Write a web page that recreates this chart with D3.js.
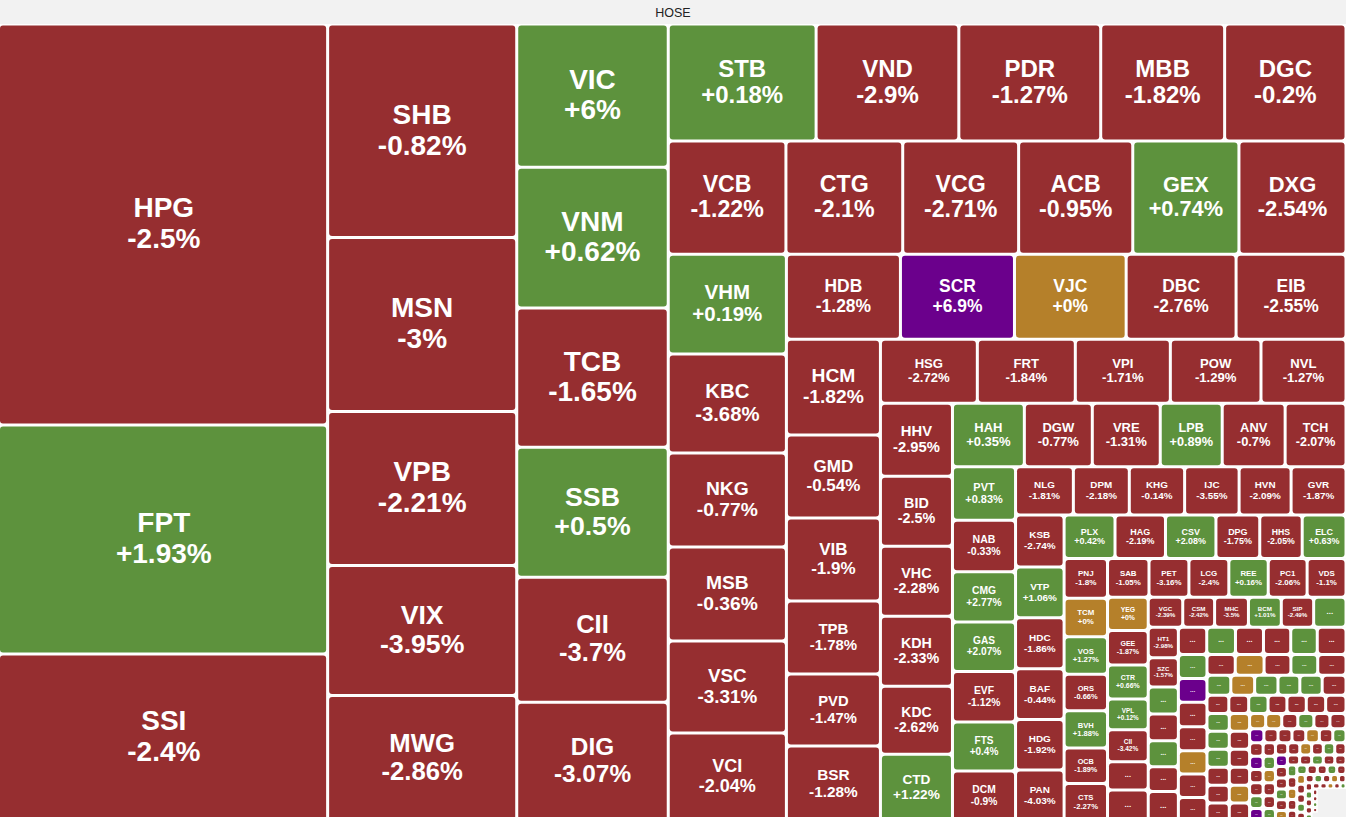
<!DOCTYPE html>
<html><head><meta charset="utf-8">
<script src="https://cdn.jsdelivr.net/npm/d3@7"></script>
<style>
html,body{margin:0;padding:0;background:#f2f2f2;overflow:hidden}
svg{display:block}
</style></head><body>
<svg id="chart" width="1346" height="817"></svg>
<script>
// ---- data ----
const title = "HOSE";
const tickers = ["HPG","FPT","SSI","SHB","MSN","VPB","VIX","MWG","VIC","VNM","TCB","SSB","CII","DIG",
 "STB","VND","PDR","MBB","DGC","VCB","CTG","VCG","ACB","GEX","DXG","VHM","KBC","NKG","MSB","VSC","VCI",
 "HDB","SCR","VJC","DBC","EIB","HCM","GMD","VIB","TPB","PVD","BSR","HSG","FRT","VPI","POW","NVL",
 "HHV","BID","VHC","KDH","KDC","CTD","HAH","DGW","VRE","LPB","ANV","TCH","PVT","NAB","CMG","GAS","EVF","FTS","DCM",
 "NLG","DPM","KHG","IJC","HVN","GVR","KSB","VTP","HDC","BAF","HDG","PAN","PLX","HAG","CSV","DPG","HHS","ELC",
 "PNJ","TCM","VOS","ORS","BVH","OCB","CTS","SAB","PET","LCG","REE","PC1","VDS",
 "YEG","GEE","CTR","VPL","CII","","","VGC","CSM","MHC","BCM","SIP","","HT1","SZC","","","","",""];
const sizes = [1313,750,547, 403.5,329,291,246,237, 217,213,211,197,189,180,
 173,167,166,145,142, 133,132,131,129,120,121, 118,117,111,111,108.5,104,
 97,97,95,93.5,93.5, 90,78,78,68.6,67.7,70.5, 62,62.7,60.8,58,54.4,
 52.6,50.4,50.4,50.4,49,48, 45.7,43.2,43.2,39.4,40,38.7, 33.7,32.4,31.8,31.2,31.8,30.9,31.5,
 27.8,26.9,26.6,26.2,25.0,26.4, 25.2,24.7,24.7,24.7,24.5,24.7, 22.2,22.0,22.0,19.1,18.5,19.1,
 17.2,16.7,16.3,15.9,16.1,15.4,16.3, 16.0,15.4,15.4,15.2,15.0,15.0,
 13.6,14.0,13.8,12.6,13.0,11.5,12.6, 10.4,9.6,10.2,9.9,9.75,9.75, 9.15,8.85,8.1,8.1,7.8,7.5,8.85];
const changes = [-2.5,1.93,-2.4, -0.82,-3,-2.21,-3.95,-2.86, 6,0.62,-1.65,0.5,-3.7,-3.07,
 0.18,-2.9,-1.27,-1.82,-0.2, -1.22,-2.1,-2.71,-0.95,0.74,-2.54, 0.19,-3.68,-0.77,-0.36,-3.31,-2.04,
 -1.28,6.9,0,-2.76,-2.55, -1.82,-0.54,-1.9,-1.78,-1.47,-1.28, -2.72,-1.84,-1.71,-1.29,-1.27,
 -2.95,-2.5,-2.28,-2.33,-2.62,1.22, 0.35,-0.77,-1.31,0.89,-0.7,-2.07, 0.83,-0.33,2.77,2.07,-1.12,0.4,-0.9,
 -1.81,-2.18,-0.14,-3.55,-2.09,-1.87, -2.74,1.06,-1.86,-0.44,-1.92,-4.03, 0.42,-2.19,2.08,-1.75,-2.05,0.63,
 -1.8,0,1.27,-0.66,1.88,-1.89,-2.27, -1.05,-3.16,-2.4,0.16,-2.06,-1.1,
 0,-1.87,0.66,0.12,-3.42,-1.5,-1.5, -2.39,-2.42,-3.5,1.01,-2.49,0.8, -2.98,-1.57,0.8,-1.5,0.8,-1.5,-1.5];
// unlabeled small tiles at the bottom right
const tailSizes = [7.7,7.8,7.6,7.4,7.2,7.8, 6.84,6.84,6.98,6.84,6.7,6.7,6.7, 5.84,5.95,5.54,5.54,5.84,
 4.8,4.8,4.7,4.4,4.5,4.8, 3.96,3.6,3.51,3.42,3.51,3.51,3.69, 4.0,4.0,4.0,4.0,4.0,4.0,
 3.64,3.64,3.64,3.64,3.64,3.64, 2.45,2.45,2.45,2.45,2.45,2.45,
 2.0,1.98,1.95,1.93,1.9,1.88,1.85,1.83,1.8,1.78,
 1.75,1.72,1.7,1.68,1.65,1.62,1.6,1.58,1.55,1.52,
 1.5,1.47,1.45,1.42,1.4,1.37,1.35,1.32,1.3,1.27,
 1.25,1.22,1.2,1.17,1.15,1.12,1.1,1.07,1.05,1.02,
 1.0,0.97,0.95,0.92,0.9,0.87,0.85,0.82,0.8,0.77,
 0.75,0.72,0.7,0.67,0.65,0.62,0.6,0.57,0.55,0.52,
 0.5,0.47,0.45,0.42,0.4,0.37,0.35,0.32,0.3,0.27,
 0.22,0.22,0.2,0.2,0.2,0.2,0.18,0.18,0.18,0.18,
 0.15,0.15,0.15,0.15,0.15,0.15,0.15,0.15,0.15,0.15,0.15,0.15,0.15,0.15,0.15,0.15,0.15,0.15,0.15,0.15,
 0.15,0.15,0.15,0.15,0.15,0.15,0.15,0.15,0.15,0.15,0.15,0.15,0.15,0.15,0.15,0.15,0.15,0.15,0.15,0.15,
 0.15,0.15,0.15,0.15,0.15,0.15,0.15,0.15,0.15,0.15];
const tailChanges = [-1.5,0.8,-1.5,-1.5,0.8,-1.5, 0.8,6.9,-1.5,-1.5,0,-1.5,-1.5, -1.5,0,-1.5,0.8,-1.5,
 0.8,0,0.8,0.8,0.8,-1.5, -1.5,-1.5,0.8,-1.5,-1.5,-1.5,-1.5, 0.8,0.8,0.8,-1.5,-1.5,-1.5,
 0,-1.5,-1.5,-1.5,0,-1.5, 0,0,-1.5,0.8,-1.5,-1.5,
 6.9,-1.5,-1.5,-1.5,0,-1.5,0.8,-1.5,6.9,-1.5,
 -1.5,0.8,6.9,-1.5,0.8,0,-1.5,-1.5,0.8,-1.5,
 -1.5,0,-1.5,0.8,-1.5,6.9,-1.5,-1.5,0.8,-1.5,
 0,-1.5,-1.5,0.8,-1.5,-1.5,0.8,-1.5,0,-1.5,
 -1.5,0.8,-1.5,-1.5,0.8,-1.5,0,-1.5,-1.5,0.8,
 -1.5,-1.5,0.8,-1.5,0,-1.5,-1.5,0.8,-1.5,-1.5,
 0.8,-1.5,-1.5,0,-1.5,0.8,-1.5,-1.5,0.8,-1.5,
 -1.5,0.8,0,-1.5,-1.5,0.8,-1.5,0,-1.5,0.8,
 -1.5,-1.5,0.8,-1.5,0,-1.5,0.8,-1.5,-1.5,0.8,-1.5,0,-1.5,-1.5,0.8,-1.5,-1.5,0.8,0,-1.5,
 -1.5,0.8,-1.5,0,-1.5,-1.5,0.8,-1.5,-1.5,0,-1.5,0.8,-1.5,-1.5,0.8,-1.5,0,-1.5,0.8,-1.5,
 -1.5,0.8,-1.5,-1.5,0,-1.5,0.8,-1.5,-1.5,0.8];
// strip structure of the tiling: c = column at left, r = row at top, followed by item count
const stripPlan = "c3 c5 c6 r5 r6 c6 r5 c6 r5 c6 r6 c7 r6 c6 r6 c7 r6 c7 r6 c7 r6 c7 r5 r6 r7 c6 c6 r6 r7";

// ---- chart ----
const W = 1346, H = 797, TOP = 24;
const colors = {down: "#962e30", up: "#5d923d", ref: "#b5802a", ceil: "#6b008c"};
const colorOf = c => c >= 6.7 ? colors.ceil : c > 0 ? colors.up : c === 0 ? colors.ref : colors.down;
const fmt = c => (c >= 0 ? "+" : "") + c + "%";

const items = tickers.map((t, i) => ({ticker: t, value: sizes[i], change: changes[i]}))
  .concat(tailSizes.map((v, i) => ({ticker: "", value: v, change: tailChanges[i]})));

const plan = stripPlan.trim().split(/\s+/).map(s => ({dir: s[0], n: +s.slice(1)}));
const restTile = d3.treemapSquarify.ratio(1);
function planTile(parent, x0, y0, x1, y1) {
  const nodes = parent.children;
  let remaining = parent.value, i = 0;
  for (const step of plan) {
    if (i >= nodes.length) break;
    const kids = nodes.slice(i, i + step.n);
    const sum = d3.sum(kids, d => d.value);
    const row = {value: sum, children: kids};
    if (step.dir === "r") {
      const yb = y0 + (y1 - y0) * sum / remaining;
      d3.treemapDice(row, x0, y0, x1, yb); y0 = yb;
    } else {
      const xb = x0 + (x1 - x0) * sum / remaining;
      d3.treemapSlice(row, x0, y0, xb, y1); x0 = xb;
    }
    remaining -= sum; i += step.n;
  }
  if (i < nodes.length) {
    restTile({value: remaining, children: nodes.slice(i)}, x0, y0, x1, y1);
  }
}

const root = d3.hierarchy({children: items}).sum(d => d.children ? 0 : d.value);
d3.treemap().size([W, H]).tile(planTile)(root);

const svg = d3.select("#chart");
svg.append("text").attr("x", W / 2).attr("y", 16.5).attr("text-anchor", "middle")
  .attr("font-family", "Liberation Sans, Arial, sans-serif").attr("font-size", 12.5)
  .attr("fill", "#222").text(title);

const g = svg.append("g").attr("transform", `translate(0,${TOP})`);
const leaves = root.leaves().filter(d => Math.min(d.x1 - d.x0, d.y1 - d.y0) >= 4.2);
const cell = g.selectAll("g.cell").data(leaves).join("g").attr("class", "cell");
cell.append("rect").attr("x", d => d.x0).attr("y", d => d.y0)
  .attr("width", d => d.x1 - d.x0).attr("height", d => d.y1 - d.y0).attr("fill", "#fff");
const left = d => d.x0 < 1 ? 0 : d.x0 + 1.5;
cell.append("rect").attr("x", left).attr("y", d => d.y0 + 1.5)
  .attr("width", d => Math.max(0, d.x1 - 1.5 - left(d))).attr("height", d => Math.max(0, d.y1 - d.y0 - 3))
  .attr("rx", d => Math.min(3, (d.x1 - d.x0) / 5, (d.y1 - d.y0) / 5))
  .attr("fill", d => colorOf(d.data.change));

cell.each(function(d) {
  const w = d.x1 - d.x0, h = d.y1 - d.y0, m = Math.min(w, h);
  const cx = (d.x0 + d.x1) / 2, cy = (d.y0 + d.y1) / 2;
  const fs = Math.min(28, 0.205 * m);
  const sel = d3.select(this);
  if (d.data.ticker && fs >= 6) {
    const t = sel.append("text").attr("text-anchor", "middle").attr("fill", "#fff")
      .attr("font-family", "Liberation Sans, Arial, sans-serif").attr("font-weight", "bold")
      .attr("font-size", fs);
    t.append("tspan").attr("x", cx).attr("y", cy - 0.25 * fs).text(d.data.ticker);
    t.append("tspan").attr("x", cx).attr("y", cy + 0.85 * fs).text(fmt(d.data.change));
  } else if (m >= 9) {
    const f2 = Math.min(9, 0.26 * m);
    sel.append("text").attr("x", cx).attr("y", cy + 0.2 * f2).attr("text-anchor", "middle")
      .attr("fill", "#fff").attr("font-family", "Liberation Sans, Arial, sans-serif")
      .attr("font-weight", "bold").attr("font-size", f2).text("...");
  }
});
</script>
</body></html>
